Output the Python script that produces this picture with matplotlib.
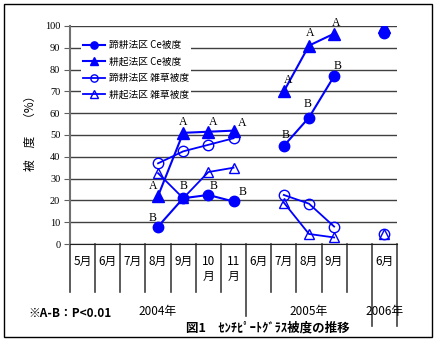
import numpy as np
import matplotlib.pyplot as plt
from matplotlib.lines import Line2D
from matplotlib.patches import Rectangle

JP = ['Noto Sans CJK JP', 'DejaVu Sans']
SERIF = 'Liberation Serif'
BLUE = '#0000ff'
nan = np.nan

# survey months (2004: May-Nov, 2005: Jun-Sep, 2006: Jun)
months = ['5月', '6月', '7月', '8月', '9月', '10\n月', '11\n月',
          '6月', '7月', '8月', '9月', '', '6月']
years = ['2004年', '2005年', '2006年']
year_pos = [3, 9, 12]

# coverage (%)
tei_ce = [nan, nan, nan, 8, 21, 22.5, 19.5, nan, 45, 58, 77, nan, 97]
kou_ce = [nan, nan, nan, 22, 51, 51.5, 52, nan, 70, 91, 96.5, nan, 99.5]
tei_weed = [nan, nan, nan, 37, 42.5, 45.5, 48.5, nan, 22.5, 18.5, 8, nan, 4.5]
kou_weed = [nan, nan, nan, 32.5, 21, 33, 35, nan, 19, 4.6, 3, nan, 4.5]

# significance letters per point
tei_ce_sig = ['', '', '', 'B', 'B', 'B', 'B', '', 'B', 'B', 'B', '', '']
kou_ce_sig = ['', '', '', 'A', 'A', 'A', 'A', '', 'A', 'A', 'A', '', '']

fig = plt.figure(figsize=(4.36, 3.42), dpi=100)
ax = fig.add_axes([70 / 436, 1 - 244 / 342, 327 / 436, 218 / 342])

x = np.arange(len(months))
h2, = ax.plot(x, kou_ce, color=BLUE, lw=1.5, marker='^', ms=8, zorder=4)
h1, = ax.plot(x, tei_ce, color=BLUE, lw=1.5, marker='o', ms=7.5, zorder=5)
h3, = ax.plot(x, tei_weed, color=BLUE, lw=1.3, marker='o', ms=7.5,
              mfc='none', mew=1, zorder=3)
h4, = ax.plot(x, kou_weed, color=BLUE, lw=1.3, marker='^', ms=7.5,
              mfc='none', mew=1, zorder=3)

# letter offsets (pixels from marker centre to letter centre)
tei_off = {3: (-5, 9), 4: (0, 12), 5: (5, 9), 6: (9, 9),
           8: (2, 11), 9: (-1, 14), 10: (3, 10)}
kou_off = {3: (-5, 10), 4: (0, 11), 5: (5, 10), 6: (9, 8),
           8: (4, 11), 9: (1, 13), 10: (2, 11)}
for vals, sig, offs in [(tei_ce, tei_ce_sig, tei_off), (kou_ce, kou_ce_sig, kou_off)]:
    for i, s in enumerate(sig):
        if s:
            ax.annotate(s, (x[i], vals[i]), xytext=offs[i], textcoords='offset pixels',
                        ha='center', va='center', fontsize=8.5, family=SERIF,
                        color='black', zorder=6)

ax.set_xlim(-0.5, len(months) - 0.5)
ax.set_ylim(0, 100)
ax.set_yticks(range(0, 101, 10))
ax.set_yticklabels([str(v) for v in range(0, 101, 10)], family=SERIF, fontsize=7.5)
ax.tick_params(axis='y', length=4, color='#606060', pad=3)
ax.set_xticks([])
ax.grid(axis='y', color='#404040', lw=1)
ax.set_axisbelow(True)
for side in ['top', 'right']:
    ax.spines[side].set_visible(False)
ax.spines['left'].set_color('#707070')
ax.spines['left'].set_linewidth(1.5)
ax.spines['bottom'].set_color('#202020')

# month labels and separators under the axis
for i, m in enumerate(months):
    ax.text(i, -0.05, m, transform=ax.get_xaxis_transform(), ha='center', va='top',
            family=JP, fontsize=8.5, linespacing=1.25)
sep_len = {0: -0.22, 7: -0.33, 12: -0.376, 13: -0.376}
for b in range(len(months) + 1):
    ax.add_line(Line2D([b - 0.5, b - 0.5], [0, sep_len.get(b, -0.22)],
                       transform=ax.get_xaxis_transform(), color='#404040',
                       lw=1.2, clip_on=False))
for xp, y in zip(year_pos, years):
    ax.text(xp, -0.31, y, transform=ax.get_xaxis_transform(), ha='center',
            va='center', family=JP, fontsize=8.5)

leg = ax.legend([h1, h2, h3, h4],
                ['蹄耕法区 Ce被度', '耕起法区 Ce被度', '蹄耕法区 雑草被度', '耕起法区 雑草被度'],
                loc='upper left', bbox_to_anchor=(0.02, 0.965), prop={'family': JP, 'size': 7},
                frameon=True, fancybox=False, edgecolor='none', framealpha=1,
                handlelength=2.2, handletextpad=0.4, labelspacing=0.65,
                borderpad=0.2, markerscale=0.7)
leg.set_zorder(7)

fig.text(30 / 436, 1 - 130 / 342, '被　度　（%）', rotation=90, ha='center',
         va='center', family=JP, fontsize=8.5)
fig.text(28 / 436, 1 - 313 / 342, '※A-B：P<0.01', ha='left', va='center',
         family=JP, fontsize=8.5, fontweight='bold')
fig.text(268 / 436, 1 - 328 / 342, '図1　ｾﾝﾁﾋﾟｰﾄｸﾞﾗｽ被度の推移', ha='center',
         va='center', family=JP, fontsize=9, fontweight='bold')

fig.patches.append(Rectangle((4 / 436, 1 - 337 / 342), 428 / 436, 333 / 342,
                             transform=fig.transFigure, fill=False,
                             edgecolor='black', lw=1))

fig.savefig('out.png', dpi=100)
